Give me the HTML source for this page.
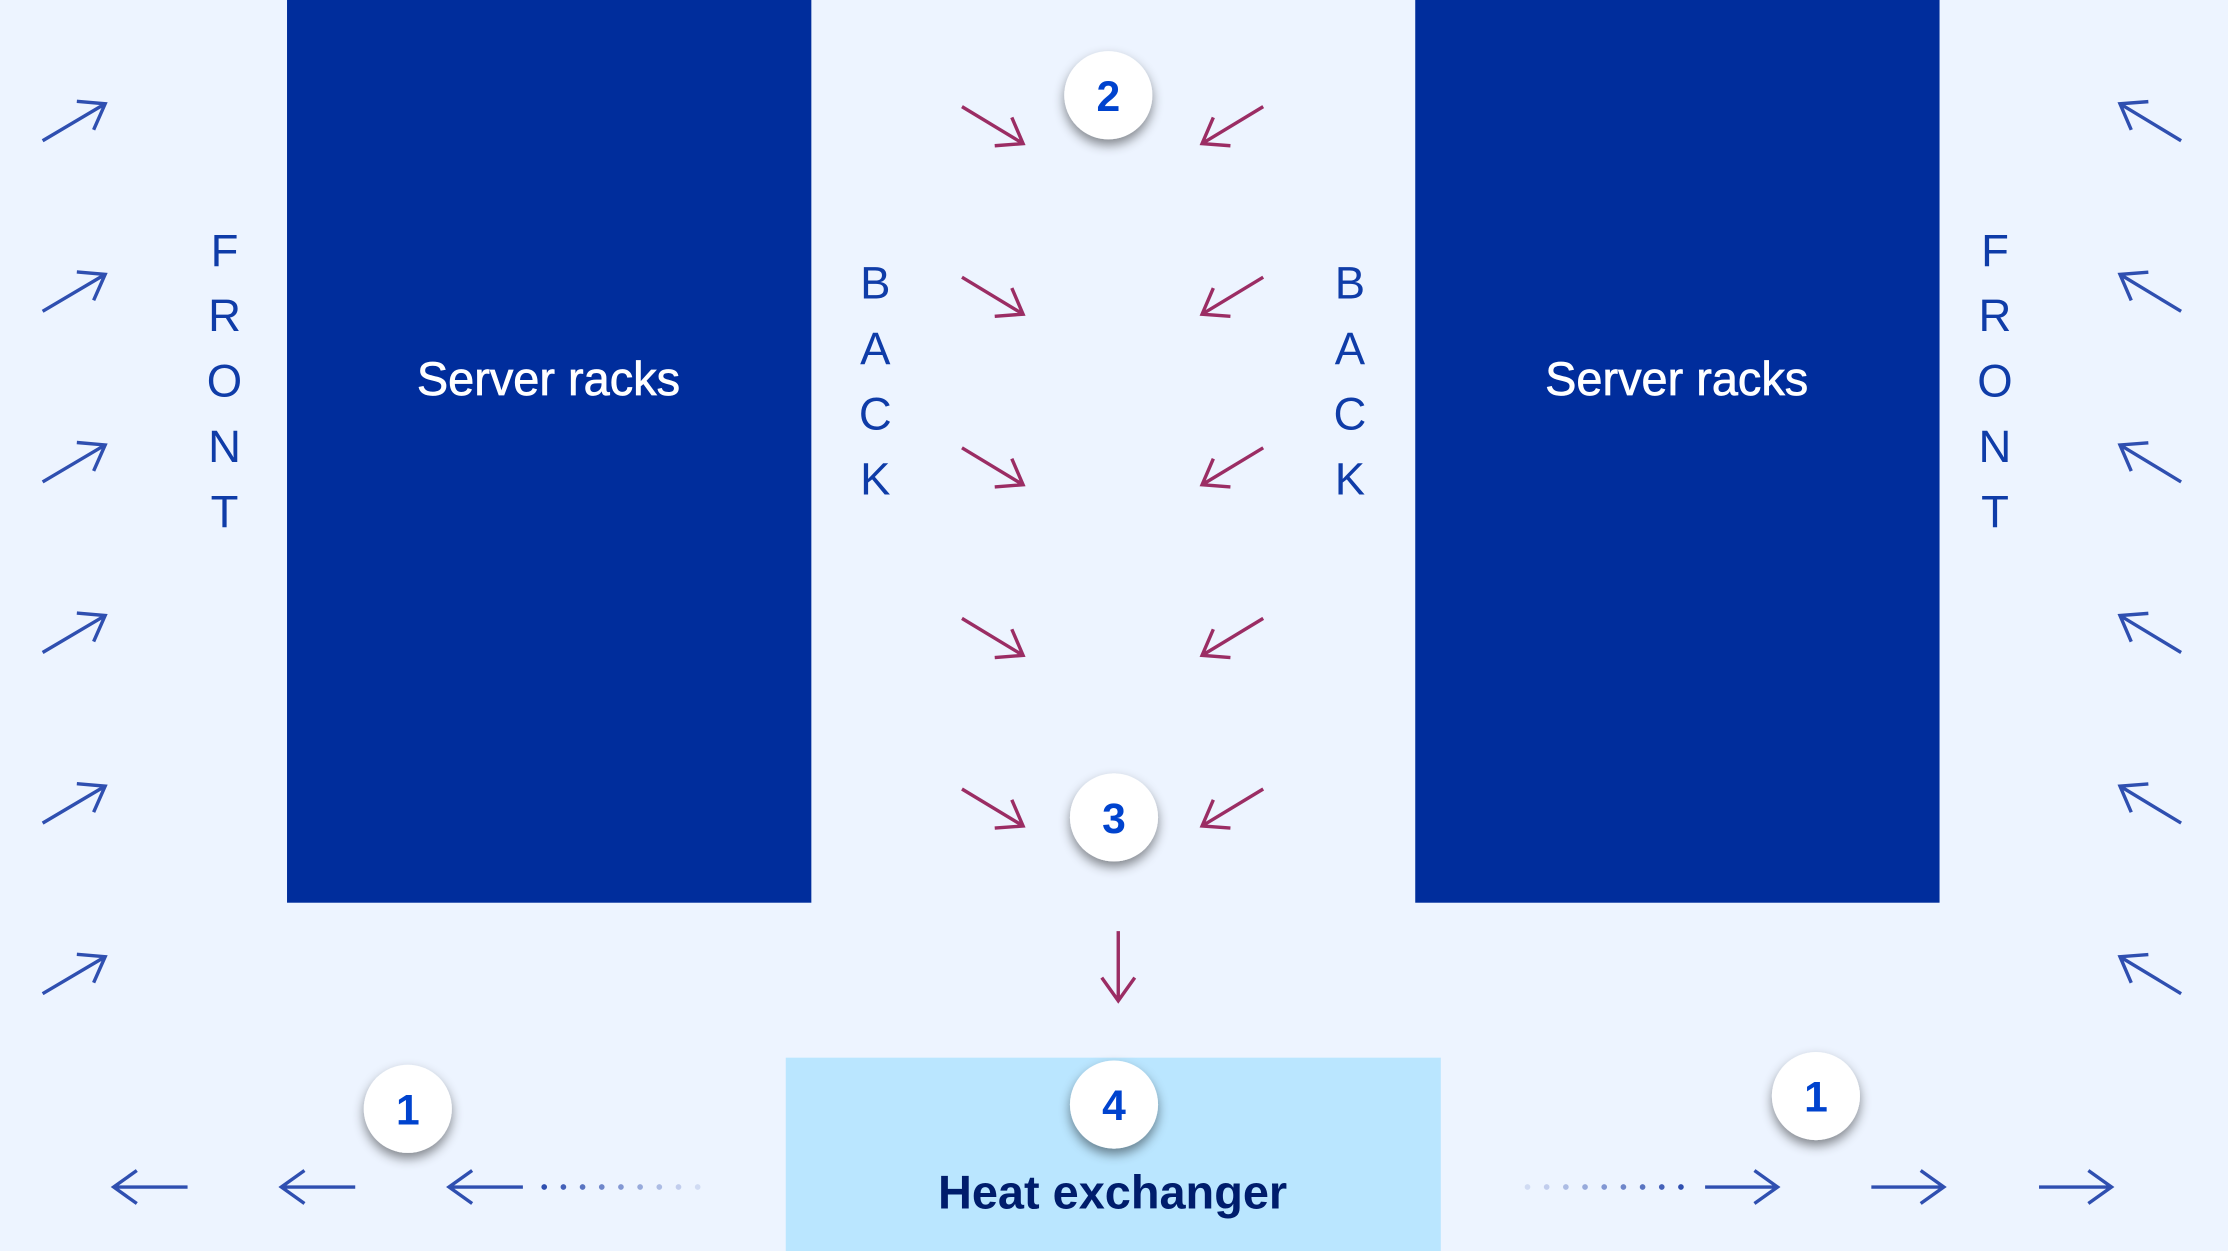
<!DOCTYPE html>
<html><head><meta charset="utf-8"><style>
html,body{margin:0;padding:0;background:#edf4ff;}
svg{display:block;}
text{font-family:"Liberation Sans",sans-serif;}
</style></head><body>
<svg id="s" width="2228" height="1251" viewBox="0 0 1568 880" preserveAspectRatio="none" xmlns="http://www.w3.org/2000/svg">
<defs><filter id="sh" x="-50%" y="-50%" width="200%" height="200%"><feDropShadow dx="0" dy="4" stdDeviation="4" flood-color="#000" flood-opacity="0.45"/></filter></defs>
<rect x="0" y="0" width="1568" height="880" fill="#edf4ff"/>
<rect x="202" y="0" width="369" height="635" fill="#002d9c"/>
<rect x="996" y="0" width="369" height="635" fill="#002d9c"/>
<text x="386" y="278" text-anchor="middle" font-size="33" fill="#fff" stroke="#fff" stroke-width="0.5">Server racks</text>
<text x="1180" y="278" text-anchor="middle" font-size="33" fill="#fff" stroke="#fff" stroke-width="0.5">Server racks</text>
<rect x="553" y="744" width="461" height="136" fill="#bae6ff"/>
<text x="783" y="850" text-anchor="middle" font-size="33" font-weight="bold" fill="#001d6c">Heat exchanger</text>
<g id="g"></g>
</svg>
<script>
const svg=document.getElementById('g');
const NS='http://www.w3.org/2000/svg';
function arrow(x1,y1,x2,y2,col,name){
  const p=document.createElementNS(NS,'path');
  const a=Math.atan2(y2-y1,x2-x1),L=20,s=0.62;
  const h1=[x2-L*Math.cos(a-s),y2-L*Math.sin(a-s)],h2=[x2-L*Math.cos(a+s),y2-L*Math.sin(a+s)];
  p.setAttribute('d',`M${x1},${y1}L${x2},${y2}M${h1[0]},${h1[1]}L${x2},${y2}L${h2[0]},${h2[1]}`);
  p.setAttribute('stroke',col);p.setAttribute('stroke-width','2.4');p.setAttribute('fill','none');
  
  
  svg.appendChild(p);
}
function txt(x,y,t,size,col,name,weight){
  const e=document.createElementNS(NS,'text');
  e.setAttribute('x',x);e.setAttribute('y',y);e.setAttribute('text-anchor','middle');
  e.setAttribute('font-size',size);e.setAttribute('fill',col);
  if(weight)e.setAttribute('font-weight',weight);
  e.textContent=t;
  
  
  svg.appendChild(e);
}
const blue='#2f4fb0',pink='#9b2d64';
[85,205,325,445,565,685].forEach(y=>{arrow(30,y+14,74,y-12,blue,'cold-air-arrow-left');arrow(1535,y+14,1492,y-12,blue,'cold-air-arrow-right');});
[75,195,315,435,555].forEach(y=>{arrow(677,y,720,y+26,pink,'hot-air-arrow-left');arrow(889,y,846,y+26,pink,'hot-air-arrow-right');});
arrow(787,655,787,704,pink,'hot-air-down-arrow');
[132,250,368].forEach(x=>arrow(x,835,80+(x-132),835,blue,'return-air-arrow-left'));
[1200,1317,1435].forEach(x=>arrow(x,835,x+51,835,blue,'return-air-arrow-right'));
for(let i=0;i<9;i++){
  const c=document.createElementNS(NS,'circle');
  c.setAttribute('cx',383+i*13.5);c.setAttribute('cy',835);c.setAttribute('r',2);
  c.setAttribute('fill',blue);c.setAttribute('opacity',Math.max(0.15,1-i*0.11));
  
  
  svg.appendChild(c);
  const d=document.createElementNS(NS,'circle');
  d.setAttribute('cx',1183-i*13.5);d.setAttribute('cy',835);d.setAttribute('r',2);
  d.setAttribute('fill',blue);d.setAttribute('opacity',Math.max(0.15,1-i*0.11));
  
  
  svg.appendChild(d);
}
'FRONT'.split('').forEach((ch,i)=>{txt(158,187+i*46,ch,32,'#0f3ca8','front-label-left');txt(1404,187+i*46,ch,32,'#0f3ca8','front-label-right');});
'BACK'.split('').forEach((ch,i)=>{txt(616,210+i*46,ch,32,'#0f3ca8','back-label-left');txt(950,210+i*46,ch,32,'#0f3ca8','back-label-right');});
[[780,67,'2'],[784,575,'3'],[784,777,'4'],[287,780,'1'],[1278,771,'1']].forEach(([x,y,t])=>{
  const c=document.createElementNS(NS,'circle');
  c.setAttribute('cx',x);c.setAttribute('cy',y);c.setAttribute('r',31);c.setAttribute('fill','#fff');c.setAttribute('filter','url(#sh)');
  
  
  svg.appendChild(c);
  txt(x,y+11,t,30,'#0043ce','step-number-'+t,'bold');
});
</script>
</body></html>
